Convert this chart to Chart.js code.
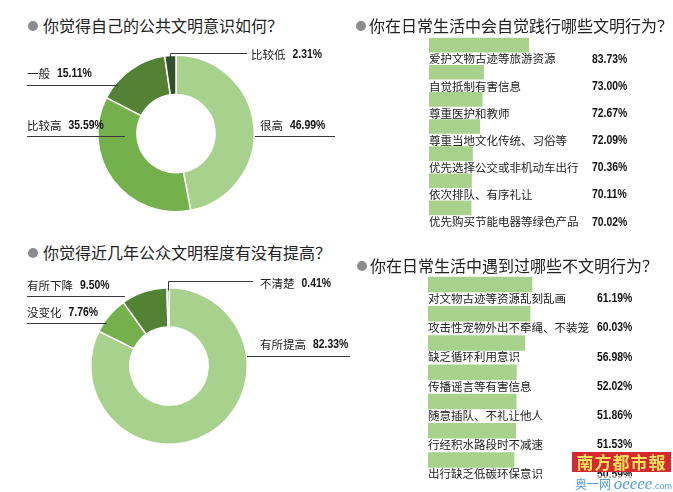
<!DOCTYPE html>
<html>
<head>
<meta charset="utf-8">
<script src="https://cdn.jsdelivr.net/npm/chart.js@4.4.1/dist/chart.umd.min.js"></script>
<style>
  body { margin: 0; background: #fff; width: 673px; height: 492px; overflow: hidden; position: relative;
         font-family: "Noto Sans CJK SC", sans-serif; }
  canvas { position: absolute; }
  .ttl { position: absolute; font-size: 16px; line-height: 20px; color: #222; white-space: nowrap; z-index: 2; }
  .ttl i { display: inline-block; width: 10px; height: 10px; border-radius: 50%; background: #8c8c8c;
           margin-right: 5px; vertical-align: 1px; }
  .logo { position: absolute; left: 572px; top: 452px; width: 99px; height: 20px; background: #d8282f;
          color: #f7e35c; font: bold 17px/20px "Noto Sans CJK SC", sans-serif; text-align: center;
          letter-spacing: 1px; z-index: 3; }
  .site { position: absolute; left: 575px; top: 476px; height: 16px; color: #5b9bd5; z-index: 3;
          font: 12px/16px "Noto Sans CJK SC", sans-serif; white-space: nowrap; background: rgba(255,255,255,.6); }
  .site b { font: italic 17px/16px "Liberation Serif", serif; }
  .site s { text-decoration: none; font: 9px/16px "Liberation Sans", sans-serif; }
</style>
</head>
<body>
<div class="ttl" style="left:28px;top:15px"><i></i>你觉得自己的公共文明意识如何？</div>
<div class="ttl" style="left:28px;top:242px"><i></i>你觉得近几年公众文明程度有没有提高？</div>
<div class="ttl" style="left:356px;top:15px"><i style="margin-right:3px"></i>你在日常生活中会自觉践行哪些文明行为？</div>
<div class="ttl" style="left:357px;top:255px"><i style="margin-right:3px"></i>你在日常生活中遇到过哪些不文明行为？</div>

<canvas id="awareness" width="360" height="190" style="left:0;top:38px"></canvas>
<canvas id="progress" width="360" height="200" style="left:0;top:272px"></canvas>
<canvas id="goodActs" width="333" height="200" style="left:340px;top:30px"></canvas>
<canvas id="badActs" width="333" height="224" style="left:340px;top:268px"></canvas>

<div class="logo">南方都市報</div>
<div class="site">奥一网 <b>oeeee</b><s>.com</s></div>

<script>
// survey data
const awarenessLabels = ['很高', '比较高', '一般', '比较低'];
const awarenessValues = [46.99, 35.59, 15.11, 2.31];

const progressLabels = ['有所提高', '没变化', '有所下降', '不清楚'];
const progressValues = [82.33, 7.76, 9.50, 0.41];

const goodLabels = ['爱护文物古迹等旅游资源', '自觉抵制有害信息', '尊重医护和教师', '尊重当地文化传统、习俗等',
                    '优先选择公交或非机动车出行', '依次排队、有序礼让', '优先购买节能电器等绿色产品'];
const goodValues = [83.73, 73.00, 72.67, 72.09, 70.36, 70.11, 70.02];

const badLabels = ['对文物古迹等资源乱刻乱画', '攻击性宠物外出不牵绳、不装笼', '缺乏循环利用意识', '传播谣言等有害信息',
                   '随意插队、不礼让他人', '行经积水路段时不减速', '出行缺乏低碳环保意识'];
const badValues = [61.19, 60.03, 56.98, 52.02, 51.86, 51.53, 50.59];

const greens = ['#a9d18e', '#74b04b', '#548235', '#32502a'];
const barGreen = '#a9d18e';

const NAME_FONT = '11.5px "Noto Sans CJK SC", sans-serif';
const VALUE_FONT = 'bold 13px "Liberation Sans", sans-serif';
const SQUEEZE = 0.8;   // numbers in the print are a condensed face

function drawValue(ctx, text, x, y) {
  ctx.save();
  ctx.fillStyle = '#111';
  ctx.font = VALUE_FONT;
  ctx.textAlign = 'left';
  ctx.textBaseline = 'middle';
  ctx.translate(x, y);
  ctx.scale(SQUEEZE, 1);
  ctx.fillText(text, 0, 0);
  ctx.restore();
}

function drawName(ctx, text, x, y) {
  ctx.fillStyle = '#222';
  ctx.font = NAME_FONT;
  ctx.textAlign = 'left';
  ctx.textBaseline = 'middle';
  ctx.fillText(text, x, y);
  return ctx.measureText(text).width;
}

// leader lines + labels round the doughnuts
const calloutPlugin = {
  id: 'callouts',
  afterDatasetsDraw(chart, args, opts) {
    const ctx = chart.ctx;
    const meta = chart.getDatasetMeta(0);
    const data = chart.data.datasets[0].data;
    ctx.save();
    ctx.strokeStyle = '#3a3a3a';
    ctx.lineWidth = 1;
    meta.data.forEach((arc, i) => {
      const L = opts.layout[i];
      const cx = arc.x, cy = arc.y;
      const text = data[i].toFixed(2) + '%';
      let tx, ty;
      ctx.beginPath();
      if (L.side === 'top') {
        const mid = (arc.startAngle + arc.endAngle) / 2;
        const px = Math.round(cx + Math.cos(mid) * arc.outerRadius) + 0.5;
        const py = cy + Math.sin(mid) * arc.outerRadius;
        const ly = Math.round(py - L.rise) + 0.5;
        ctx.moveTo(px, py + 3);
        ctx.lineTo(px, ly);
        ctx.lineTo(cx + L.x2, ly);
        tx = cx + L.tx; ty = ly + L.ty;
      } else {
        const y = Math.round(cy + L.dy) + 0.5;
        ctx.moveTo(cx + L.x1, y);
        ctx.lineTo(cx + L.x2, y);
        tx = cx + L.tx; ty = y + L.ty;
      }
      ctx.stroke();
      const w = drawName(ctx, chart.data.labels[i], tx, ty);
      drawValue(ctx, text, tx + w + 7, ty);
    });
    ctx.restore();
  }
};

// category label under each bar, value on the right
const barTextPlugin = {
  id: 'barText',
  afterDatasetsDraw(chart, args, opts) {
    const ctx = chart.ctx;
    const meta = chart.getDatasetMeta(0);
    const data = chart.data.datasets[0].data;
    const left = chart.chartArea.left;
    ctx.save();
    meta.data.forEach((bar, i) => {
      const y = bar.y + opts.gap;
      drawName(ctx, chart.data.labels[i], left, y);
      drawValue(ctx, data[i].toFixed(2) + '%', left + opts.valueX, y);
    });
    ctx.restore();
  }
};

const quiet = {
  responsive: false,
  animation: false,
  events: [],
  plugins: { legend: { display: false }, tooltip: { enabled: false }, title: { display: false } }
};

function makeDoughnut(id, labels, values, padding, layout) {
  new Chart(document.getElementById(id), {
    type: 'doughnut',
    data: {
      labels: labels,
      datasets: [{
        data: values,
        backgroundColor: greens,
        borderColor: '#ffffff',
        borderWidth: 1.5
      }]
    },
    options: {
      ...quiet,
      cutout: '50%',
      layout: { padding: padding },
      plugins: { ...quiet.plugins, callouts: { layout: layout } }
    },
    plugins: [calloutPlugin]
  });
}

function makeBars(id, labels, values, xMin, thickness, padding, valueX) {
  new Chart(document.getElementById(id), {
    type: 'bar',
    data: {
      labels: labels,
      datasets: [{ data: values, backgroundColor: barGreen, barThickness: thickness }]
    },
    options: {
      ...quiet,
      indexAxis: 'y',
      layout: { padding: padding },
      scales: {
        x: { display: false, min: xMin, max: 100 },
        y: { display: false }
      },
      plugins: { ...quiet.plugins, barText: { gap: 14, valueX: valueX } }
    },
    plugins: [barTextPlugin]
  });
}

makeDoughnut('awareness', awarenessLabels, awarenessValues,
  { left: 97, right: 105, top: 16.5, bottom: 15.5 },
  [
    { side: 'h', dy: 2.5, x1: 79, x2: 159, tx: 84, ty: -11 },
    { side: 'h', dy: 2.5, x1: -149, x2: -51, tx: -149, ty: -11 },
    { side: 'h', dy: -48.5, x1: -149, x2: -58, tx: -149, ty: -12 },
    { side: 'top', rise: 2.5, x2: 71, tx: 75, ty: 1 }
  ]);

makeDoughnut('progress', progressLabels, progressValues,
  { left: 90, right: 112, top: 15, bottom: 27 },
  [
    { side: 'h', dy: -10, x1: 78, x2: 181, tx: 91, ty: -12 },
    { side: 'h', dy: -43, x1: -142, x2: -62, tx: -142, ty: -11 },
    { side: 'h', dy: -70, x1: -142, x2: -44, tx: -142, ty: -11 },
    { side: 'top', rise: 7, x2: 84, tx: 91, ty: 2 }
  ]);

makeBars('goodActs', goodLabels, goodValues, 60, 14,
  { left: 89, right: 76, top: 1.5, bottom: 8.5 }, 163);

makeBars('badActs', badLabels, badValues, 0, 15,
  { left: 88, right: 75, top: 1.9, bottom: 17.4 }, 169);
</script>
</body>
</html>
